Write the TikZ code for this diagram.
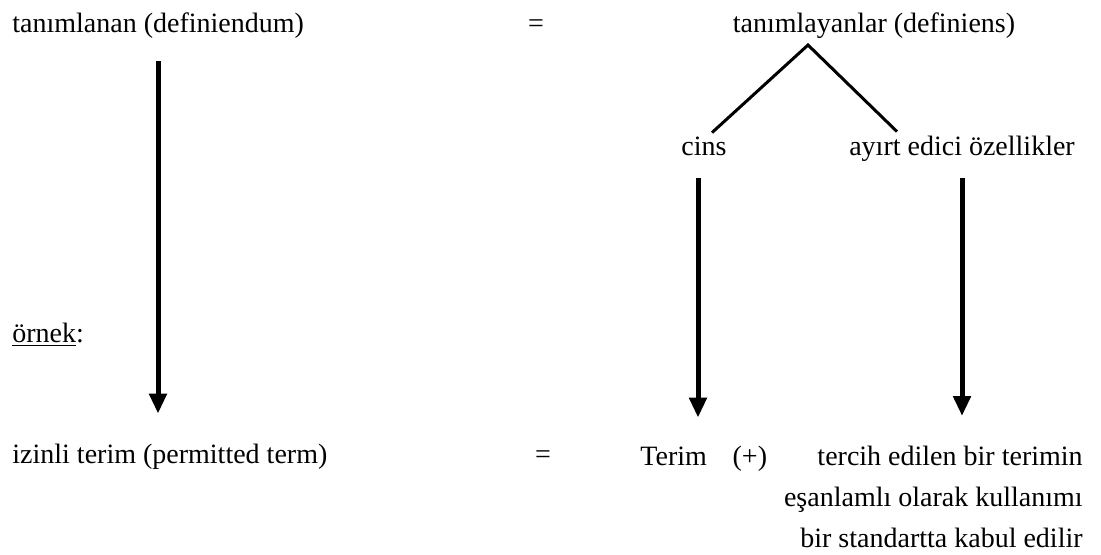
\documentclass[tikz,border=0pt]{standalone}
\usepackage{fontspec}
\setmainfont{Liberation Serif}
\usetikzlibrary{arrows.meta,positioning}

\begin{document}
\begin{tikzpicture}[
  x=0.5pt,y=-0.5pt,
  term/.style={inner sep=0pt,font=\fontsize{14pt}{20.5pt}\selectfont,text height=0.7em,text depth=0.25em},
  para/.style={inner sep=0pt,font=\fontsize{14pt}{20.5pt}\selectfont,align=right},
  arrow/.style={-{Triangle[length=10pt,width=8.5pt]},line width=2.5pt},
  branch/.style={line width=1.5pt},
  node distance=12.5pt
]
\useasboundingbox (0,0) rectangle (1101,554);
% definition row
\node[term,anchor=base west] (definiendum) at (12,32) {tanımlanan (definiendum)};
\node[term,anchor=base] (eqtop) at (536,32) {=};
\node[term,anchor=base] (definiens) at (874,32) {tanımlayanlar (definiens)};
\node[term,anchor=base] (cins) at (704,155) {cins};
\node[term,anchor=base] (ayirt) at (962,155) {ayırt edici özellikler};
\coordinate (apex) at (808,45);
\draw[branch] ([shift={(8,-8)}]cins.north) -- (apex) -- ([shift={(-65,-9)}]ayirt.north);

\node[term,anchor=base west] (ornek) at (12,342) {\underline{örnek}:};

% example row
\node[term,anchor=base west] (izinli) at (12,463) {izinli terim (permitted term)};
\node[term,anchor=base] (eqbottom) at (543,463) {=};
\node[term,anchor=base west] (terim) at (640,465) {Terim};
\node[term,right=of terim] (plus) {(+)};
\node[para,anchor=north east] (tercih) at (1083,446) {tercih edilen bir terimin\\eşanlamlı olarak kullanımı\\bir standartta kabul edilir};

\draw[arrow,shorten <=12pt,shorten >=17.5pt] (definiendum.south -| 158,0) -- (izinli.north -| 158,0);
\draw[arrow,shorten <=9pt,shorten >=16.5pt] (cins.south -| 698,0) -- (terim.north -| 698,0);
\draw[arrow,shorten <=9pt,shorten >=15pt] (ayirt.south -| 962,0) -- (tercih.north -| 962,0);
\end{tikzpicture}
\end{document}
